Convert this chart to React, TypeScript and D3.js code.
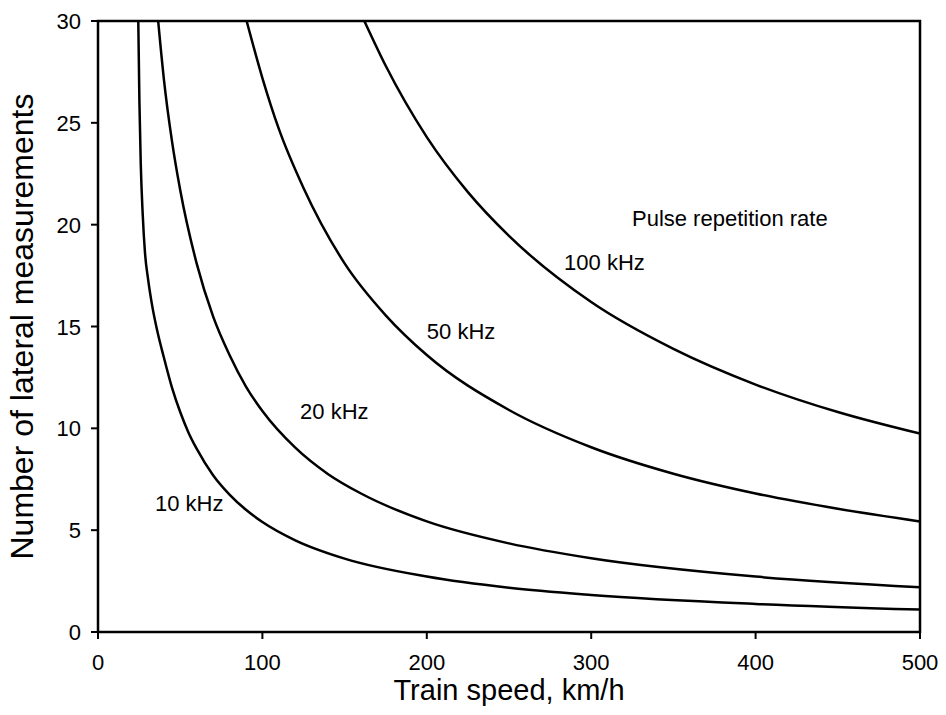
import React from 'react';
import * as d3 from 'd3';

// Pulse repetition rate curves: train speed (km/h) vs number of lateral measurements
const speed10 = [24.5, 25.2, 26, 27.2, 28.6, 30.5, 33, 36, 40, 45, 50, 55, 60, 70, 80, 90, 100, 120, 150, 200, 250, 300, 400, 500];
const count10 = [30, 26, 23, 20.5, 18.6, 17.3, 16.0, 14.8, 13.5, 12.0, 10.8, 9.8, 9.0, 7.7, 6.75, 6.0, 5.4, 4.5, 3.6, 2.72, 2.17, 1.82, 1.38, 1.1];

const speed20 = [36.6, 40, 45, 50, 60, 70, 80, 90, 100, 120, 140, 160, 200, 250, 300, 400, 500];
const count20 = [30, 27.2, 24.1, 21.7, 18.1, 15.5, 13.6, 12.05, 10.85, 9.05, 7.75, 6.8, 5.43, 4.35, 3.62, 2.72, 2.2];

const speed50 = [90.4, 100, 110, 125, 150, 175, 200, 250, 300, 350, 400, 450, 500];
const count50 = [30, 27.2, 24.7, 21.8, 18.1, 15.55, 13.6, 10.9, 9.07, 7.77, 6.8, 6.05, 5.43];

const speed100 = [162, 175, 200, 225, 250, 300, 350, 400, 450, 500];
const count100 = [30, 27.8, 24.3, 21.6, 19.45, 16.2, 13.9, 12.15, 10.8, 9.74];

const seriesNames = ['10 kHz', '20 kHz', '50 kHz', '100 kHz'];
const xTicks = [0, 100, 200, 300, 400, 500];
const yTicks = [0, 5, 10, 15, 20, 25, 30];

// annotation anchors in data units
const annotations = [
  { text: '10 kHz', sx: 34.7, ny: 5.94 },
  { text: '20 kHz', sx: 122.9, ny: 10.45 },
  { text: '50 kHz', sx: 200, ny: 14.4 },
  { text: '100 kHz', sx: 283.5, ny: 17.77 },
  { text: 'Pulse repetition rate', sx: 324.8, ny: 19.93 },
];

const FONT = '"Liberation Sans", Arial, Helvetica, sans-serif';

export default function App() {
  const W = 946;
  const H = 715;
  const left = 98, right = 920, top = 21, bottom = 632;
  const x = d3.scaleLinear().domain([0, 500]).range([left, right]);
  const y = d3.scaleLinear().domain([0, 30]).range([bottom, top]);
  const line = d3
    .line<[number, number]>()
    .x((d) => x(d[0]))
    .y((d) => y(d[1]))
    .curve(d3.curveMonotoneX);

  const series: [number, number][][] = [
    speed10.map((s, i) => [s, count10[i]] as [number, number]),
    speed20.map((s, i) => [s, count20[i]] as [number, number]),
    speed50.map((s, i) => [s, count50[i]] as [number, number]),
    speed100.map((s, i) => [s, count100[i]] as [number, number]),
  ];

  return (
    <svg width={W} height={H} style={{ position: 'absolute', left: 0, top: 0, background: '#fff' }} fontFamily={FONT}>
      <defs>
        <clipPath id="plot">
          <rect x={left} y={top} width={right - left} height={bottom - top} />
        </clipPath>
      </defs>
      <g clipPath="url(#plot)">
        {series.map((pts, i) => (
          <path key={seriesNames[i]} d={line(pts) || ''} fill="none" stroke="#000" strokeWidth={2.5} />
        ))}
      </g>
      <rect x={left} y={top} width={right - left} height={bottom - top} fill="none" stroke="#000" strokeWidth={2.5} />
      {xTicks.map((t) => (
        <g key={'x' + t}>
          <line x1={x(t)} x2={x(t)} y1={bottom} y2={bottom + 7} stroke="#000" strokeWidth={2} />
          <text x={x(t)} y={bottom + 38} textAnchor="middle" fontSize={22}>{t}</text>
        </g>
      ))}
      {yTicks.map((t) => (
        <g key={'y' + t}>
          <line x1={left - 7} x2={left} y1={y(t)} y2={y(t)} stroke="#000" strokeWidth={2} />
          <text x={left - 17} y={y(t) + 8} textAnchor="end" fontSize={22}>{t}</text>
        </g>
      ))}
      <text x={(left + right) / 2} y={700} textAnchor="middle" fontSize={29}>Train speed, km/h</text>
      <text transform={`translate(33, ${(top + bottom) / 2}) rotate(-90)`} textAnchor="middle" fontSize={32}>
        Number of lateral measurements
      </text>
      {annotations.map((a) => (
        <text key={a.text} x={x(a.sx)} y={y(a.ny)} fontSize={22}>{a.text}</text>
      ))}
    </svg>
  );
}
